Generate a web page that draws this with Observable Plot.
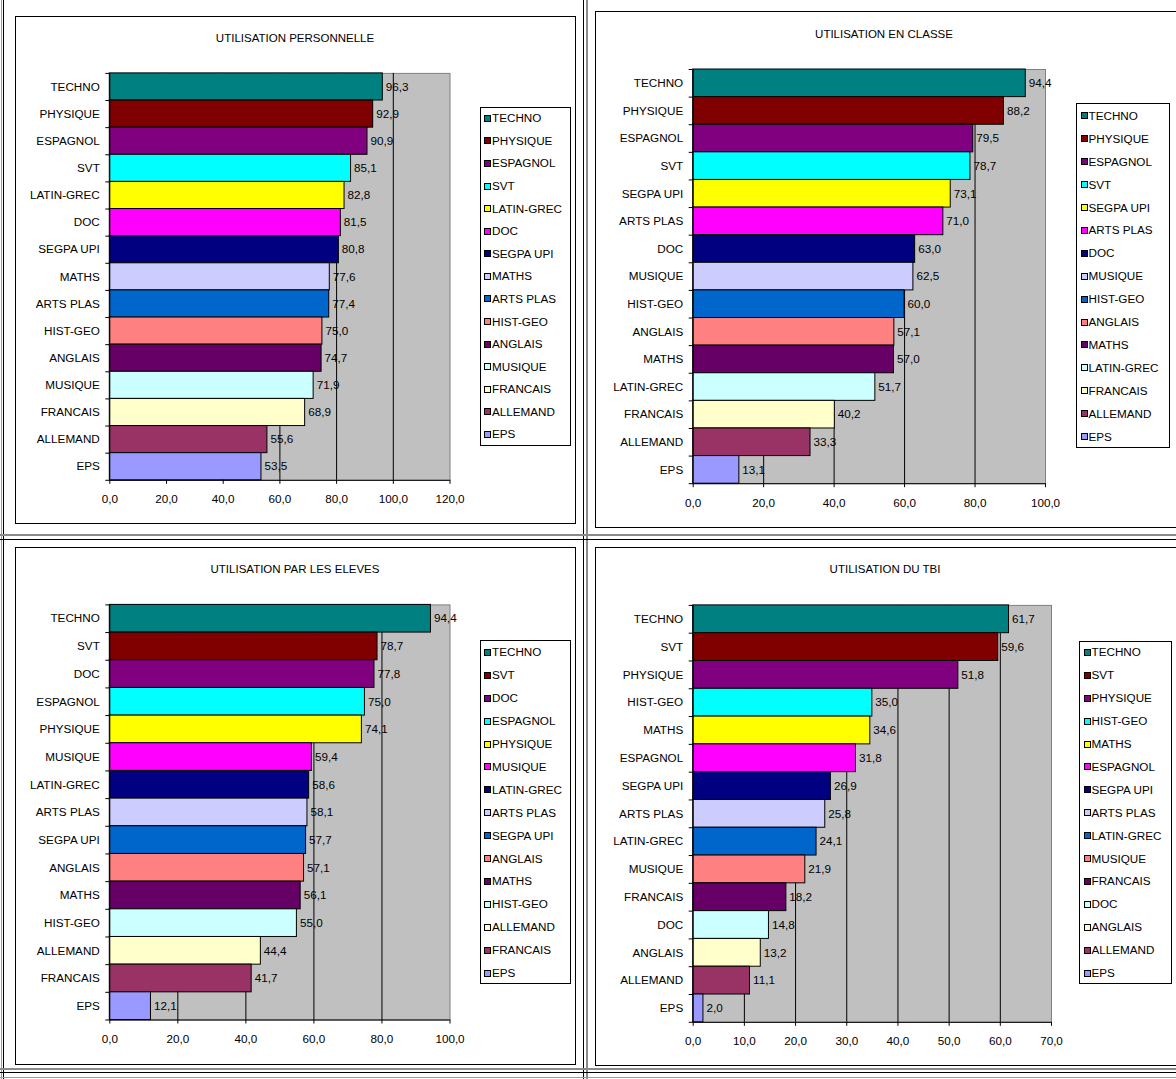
<!DOCTYPE html>
<html>
<head>
<meta charset="utf-8">
<script src="https://cdn.jsdelivr.net/npm/d3@7"></script>
<script src="https://cdn.jsdelivr.net/npm/@observablehq/plot@0.6"></script>
<style>
  html, body { margin: 0; padding: 0; background: #fff; }
  #page { position: relative; width: 1176px; height: 1079px; overflow: hidden; background: #fff;
          font-family: "Liberation Sans", Arial, sans-serif; color: #000; }
  .abs { position: absolute; }
  .frame { position: absolute; border: 1px solid #000; box-sizing: border-box; }
  .title { position: absolute; font-size: 11.5px; line-height: 14px; white-space: nowrap; transform: translateX(-50%); }
  .legend { position: absolute; border: 1px solid #000; box-sizing: border-box; background: #fff; }
  .entry { position: absolute; font-size: 11.7px; line-height: 14px; white-space: nowrap; }
  .sw { position: absolute; width: 7px; height: 7px; border: 1px solid #000; box-sizing: border-box; }
  .hl { position: absolute; left: 0; width: 1176px; }
  .vl { position: absolute; top: 0; height: 1079px; }
  svg { overflow: visible; }
</style>
</head>
<body>
<div id="page"></div>
<script>
// ---------- data ----------
const titles = ["UTILISATION PERSONNELLE", "UTILISATION EN CLASSE", "UTILISATION PAR LES ELEVES", "UTILISATION DU TBI"];

const persoNames  = ["TECHNO","PHYSIQUE","ESPAGNOL","SVT","LATIN-GREC","DOC","SEGPA UPI","MATHS","ARTS PLAS","HIST-GEO","ANGLAIS","MUSIQUE","FRANCAIS","ALLEMAND","EPS"];
const persoValues = [96.3, 92.9, 90.9, 85.1, 82.8, 81.5, 80.8, 77.6, 77.4, 75.0, 74.7, 71.9, 68.9, 55.6, 53.5];

const classeNames  = ["TECHNO","PHYSIQUE","ESPAGNOL","SVT","SEGPA UPI","ARTS PLAS","DOC","MUSIQUE","HIST-GEO","ANGLAIS","MATHS","LATIN-GREC","FRANCAIS","ALLEMAND","EPS"];
const classeValues = [94.4, 88.2, 79.5, 78.7, 73.1, 71.0, 63.0, 62.5, 60.0, 57.1, 57.0, 51.7, 40.2, 33.3, 13.1];

const elevesNames  = ["TECHNO","SVT","DOC","ESPAGNOL","PHYSIQUE","MUSIQUE","LATIN-GREC","ARTS PLAS","SEGPA UPI","ANGLAIS","MATHS","HIST-GEO","ALLEMAND","FRANCAIS","EPS"];
const elevesValues = [94.4, 78.7, 77.8, 75.0, 74.1, 59.4, 58.6, 58.1, 57.7, 57.1, 56.1, 55.0, 44.4, 41.7, 12.1];

const tbiNames  = ["TECHNO","SVT","PHYSIQUE","HIST-GEO","MATHS","ESPAGNOL","SEGPA UPI","ARTS PLAS","LATIN-GREC","MUSIQUE","FRANCAIS","DOC","ANGLAIS","ALLEMAND","EPS"];
const tbiValues = [61.7, 59.6, 51.8, 35.0, 34.6, 31.8, 26.9, 25.8, 24.1, 21.9, 18.2, 14.8, 13.2, 11.1, 2.0];

const persoTicks  = [0, 20, 40, 60, 80, 100, 120];
const classeTicks = [0, 20, 40, 60, 80, 100];
const elevesTicks = [0, 20, 40, 60, 80, 100];
const tbiTicks    = [0, 10, 20, 30, 40, 50, 60, 70];

const palette = ["#008080","#800000","#800080","#00FFFF","#FFFF00","#FF00FF","#000080","#CCCCFF",
                 "#0066CC","#FF8080","#660066","#CCFFFF","#FFFFCC","#993366","#9999FF"];

// ---------- layout (page pixel coordinates) ----------
const layout = [
  {frame:[15,15.5,575.5,523.5], plot:[109.3,72.4,449.5,479.3], title:[295,37.5], legend:[479.5,107,570.5,445.5], ly0:118.3, lstep:22.58},
  {frame:[594.5,11,1180,527.5], plot:[692.2,69,1044.5,483.2], title:[884,34], legend:[1076,103.4,1170,447.6], ly0:115.9, lstep:22.9},
  {frame:[15,547,575.5,1065], plot:[109.3,604.4,449.5,1019.5], title:[295,569], legend:[479.5,640.2,570.5,983.8], ly0:652.4, lstep:22.9},
  {frame:[594.5,546.5,1180,1066], plot:[692.2,604.4,1050.5,1021.3], title:[885,569], legend:[1079,641,1172,983.8], ly0:652.4, lstep:22.9}
];

const panels = [
  {names: persoNames,  values: persoValues,  ticks: persoTicks},
  {names: classeNames, values: classeValues, ticks: classeTicks},
  {names: elevesNames, values: elevesValues, ticks: elevesTicks},
  {names: tbiNames,    values: tbiValues,    ticks: tbiTicks}
];

const fmt = v => v.toFixed(1).replace(".", ",");
const page = document.getElementById("page");

function el(cls, style, text) {
  const d = document.createElement("div");
  d.className = cls;
  Object.assign(d.style, style);
  if (text != null) d.textContent = text;
  page.appendChild(d);
  return d;
}

// table cell borders
el("vl", {left: "0.5px", width: "1px", background: "#9a9a9a"});
el("vl", {left: "3px", width: "1px", background: "#000"});
el("vl", {left: "582.5px", width: "1px", background: "#000"});
el("vl", {left: "586px", width: "2px", background: "#8a8a8a"});
el("hl", {top: "534px", height: "2px", background: "#8a8a8a"});
el("hl", {top: "538.5px", height: "1px", background: "#000"});
el("hl", {top: "1068px", height: "2px", background: "#8a8a8a"});
el("hl", {top: "1072px", height: "1px", background: "#000"});
el("hl", {top: "1076.5px", height: "1px", background: "#9a9a9a"});

panels.forEach((p, k) => {
  const L = layout[k];
  const [fl, ft, fr, fb] = L.frame;
  const [pl, pt, pr, pb] = L.plot;
  const n = p.names.length;
  const data = p.names.map((name, i) => ({name, value: p.values[i], i}));
  const max = p.ticks[p.ticks.length - 1];

  el("frame", {left: fl + "px", top: ft + "px", width: (fr - fl) + "px", height: (fb - ft) + "px", background: "#fff"});

  const chart = Plot.plot({
    width: fr - fl,
    height: fb - ft,
    marginLeft: pl - fl,
    marginRight: fr - pr,
    marginTop: pt - ft,
    marginBottom: fb - pb,
    style: {fontFamily: '"Liberation Sans", Arial, sans-serif', fontSize: "11.7px", color: "#000", background: "transparent", overflow: "visible"},
    x: {domain: [0, max]},
    y: {domain: [0, n], reverse: true},
    color: {domain: p.names, range: palette},
    marks: [
      Plot.frame({fill: "#C0C0C0", stroke: "#808080"}),
      Plot.gridX(p.ticks.slice(1, -1), {stroke: "#000", strokeOpacity: 1}),
      Plot.rect(data, {x1: d => 0, x2: "value", y1: "i", y2: d => d.i + 1, fill: "name", stroke: "#000", strokeWidth: 1}),
      Plot.text(data, {x: "value", y: d => d.i + 0.5, text: d => fmt(d.value), textAnchor: "start", dx: 3, fill: "#000"}),
      Plot.ruleX([0], {stroke: "#000"}),
      Plot.ruleY([n], {stroke: "#000"}),
      Plot.axisX({ticks: p.ticks, tickSize: 4, tickPadding: 10.5, tickFormat: fmt, label: null}),
      Plot.axisY({ticks: d3.range(n + 1), tickSize: 4, tickFormat: () => "", label: null}),
      Plot.axisY({ticks: d3.range(n).map(i => i + 0.5), tickSize: 0, tickPadding: 10, tickFormat: t => p.names[Math.floor(t)], label: null})
    ]
  });
  chart.style.position = "absolute";
  chart.style.left = fl + "px";
  chart.style.top = ft + "px";
  page.appendChild(chart);

  el("title", {left: L.title[0] + "px", top: (L.title[1] - 7) + "px"}, titles[k]);

  const [ll, lt, lr, lb] = L.legend;
  el("legend", {left: ll + "px", top: lt + "px", width: (lr - ll) + "px", height: (lb - lt) + "px"});
  const color = chart.scale("color");
  p.names.forEach((name, i) => {
    const cy = L.ly0 + i * L.lstep;
    el("sw", {left: (ll + 4.5) + "px", top: (cy - 3.5) + "px", background: palette[color.domain.indexOf(name)]});
    el("entry", {left: (ll + 12.5) + "px", top: (cy - 7) + "px"}, name);
  });
});
</script>
</body>
</html>
